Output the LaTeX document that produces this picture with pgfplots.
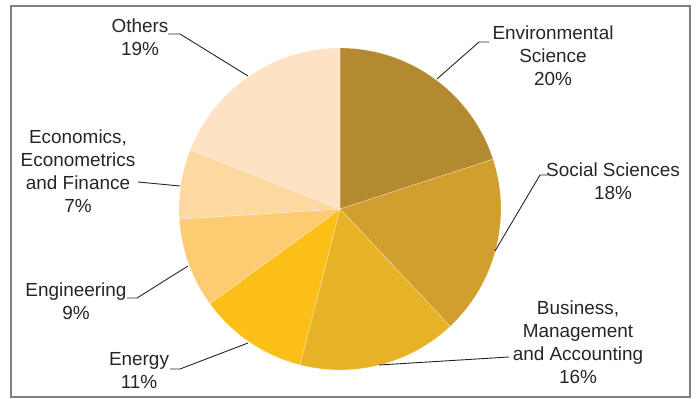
\documentclass[border=0pt]{standalone}
\usepackage{pgfplots}
\pgfplotsset{compat=1.18}
\usepackage{fontspec}
\setmainfont{Liberation Sans}
\definecolor{cEnv}{HTML}{B38A30}
\definecolor{cSoc}{HTML}{D09F2D}
\definecolor{cBus}{HTML}{E8B226}
\definecolor{cEne}{HTML}{FBBF17}
\definecolor{cEng}{HTML}{FDCB72}
\definecolor{cEco}{HTML}{FDD8A0}
\definecolor{cOth}{HTML}{FDE3C3}
\definecolor{txt}{HTML}{262626}
\begin{document}
\begin{tikzpicture}
\begin{axis}[
  hide axis, scale only axis,
  width=696bp, height=399bp,
  xmin=0, xmax=696, ymin=0, ymax=399,
  clip=false,
]
\path (axis cs:0,0) rectangle (axis cs:696,399);
% frame
\draw[color=black!50, line width=1.2bp] (axis cs:11,2) rectangle (axis cs:690,393);
% pie: value (percent) / colour, clockwise from 12 o'clock
\gdef\startang{90}
\foreach \v/\col in {20/cEnv, 18/cSoc, 16/cBus, 11/cEne, 9/cEng, 7/cEco, 19/cOth}{
  \pgfmathsetmacro{\endang}{\startang-3.6*\v}
  \edef\slice{\noexpand\fill[\col, draw=white, draw opacity=0.5, line width=0.4bp]
    (axis cs:340,190) -- ++(\startang:161bp)
    arc[start angle=\startang, end angle=\endang, radius=161bp] -- cycle;}
  \slice
  \global\let\startang\endang
}
% leader lines
\tikzset{lead/.style={draw=txt, line width=0.9bp}}
\draw[lead] (axis cs:437,320) -- (axis cs:479,357) -- (axis cs:489,357);
\draw[lead] (axis cs:495,148) -- (axis cs:540,224) -- (axis cs:548,224);
\draw[lead] (axis cs:379,34) -- (axis cs:509,42);
\draw[lead] (axis cs:248,56) -- (axis cs:180,30) -- (axis cs:170,30);
\draw[lead] (axis cs:188,133) -- (axis cs:137,101) -- (axis cs:127,101);
\draw[lead] (axis cs:180,213) -- (axis cs:138,217);
\draw[lead] (axis cs:248,323) -- (axis cs:180,365) -- (axis cs:168,365);
% labels
\tikzset{lab/.style={align=center, text=txt, inner sep=0pt,
  font=\fontsize{19}{23}\selectfont}}
\node[lab] at (axis cs:553,343.5) {Environmental\\Science\\20\%};
\node[lab] at (axis cs:613,217.5) {Social Sciences\\18\%};
\node[lab] at (axis cs:578,56.5) {Business,\\Management\\and Accounting\\16\%};
\node[lab] at (axis cs:139,28) {Energy\\11\%};
\node[lab] at (axis cs:76,97.5) {Engineering\\9\%};
\node[lab] at (axis cs:78,228) {Economics,\\Econometrics\\and Finance\\7\%};
\node[lab] at (axis cs:140,361.5) {Others\\19\%};
\end{axis}
\end{tikzpicture}
\end{document}
